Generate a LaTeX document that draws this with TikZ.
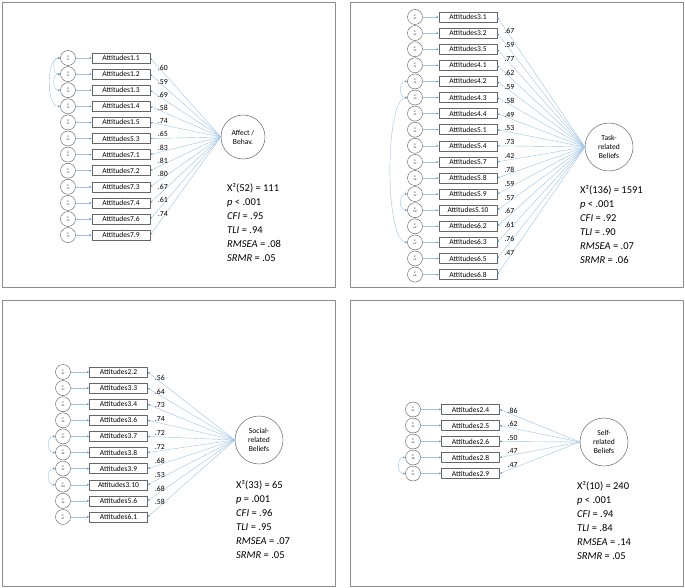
\documentclass[tikz,border=0pt]{standalone}
\usepackage{fontspec}
\setmainfont{Carlito}
\usetikzlibrary{arrows.meta}
\definecolor{pathblue}{RGB}{157,195,230}
\definecolor{tipblue}{RGB}{91,155,213}
\definecolor{framegray}{RGB}{140,140,140}
\tikzset{
  panel/.style={draw=framegray,line width=0.9pt},
  obs/.style={draw=black!60,minimum width=58pt,minimum height=10pt,inner sep=0pt,font=\fontsize{7.5}{8}\selectfont},
  err/.style={draw=black!65,circle,minimum size=15pt,inner sep=0pt,align=center,font=\fontsize{2.6}{3}\selectfont},
  latent/.style={draw=black!70,circle,minimum size=#1,inner sep=0pt,align=center,font=\fontsize{7.6}{9}\selectfont},
  path/.style={draw=pathblue,line width=0.4pt,-{Latex[length=2.2pt,width=2pt,color=tipblue]}},
  cov/.style={draw=pathblue,line width=0.4pt,{Latex[length=2.2pt,width=2pt,color=tipblue]}-{Latex[length=2.2pt,width=2pt,color=tipblue]}},
  ld/.style={font=\fontsize{7.8}{8}\selectfont,inner sep=1pt,anchor=south},
  fitbox/.style={align=left,inner sep=0pt,anchor=north west,font=\fontsize{10.5}{14}\selectfont}
}
\begin{document}
\begin{tikzpicture}[x=1pt,y=-1pt,line cap=round,line join=round]
\useasboundingbox (0,0) rectangle (685,588);
\draw[panel] (2,2) rectangle (335,287);
\draw[panel] (350,2) rectangle (683,287);
\draw[panel] (2,300) rectangle (335,586);
\draw[panel] (350,300) rectangle (683,586);

\node[latent=44pt] (affect) at (243,137) {Affect /\\Behav.};
\foreach \lab/\e/\ld [count=\i] in {1.1/11/.60,1.2/12/.59,1.3/13/.69,1.4/14/.58,1.5/15/.74,5.3/53/.65,7.1/71/.83,7.2/72/.81,7.3/73/.80,7.4/74/.67,7.6/76/.61,7.9/79/.74}
{
  \node[obs] (a\i) at (121,{58+(\i-1)*16.1}) {Attitudes\lab};
  \node[err] (ea\i) at (68,{58+(\i-1)*16.1}) {E\\\e};
  \draw[path] (ea\i) -- (a\i);
  \draw[path] (affect.west) -- node[ld,pos=0.82] {\ld} (a\i.east);
}
\draw[cov] (ea1.west) to[out=180,in=180,looseness=1.3] (ea2.west);
\draw[cov] (ea1.west) to[out=180,in=180,looseness=0.75] (ea4.west);
\draw[cov] (ea2.west) to[out=180,in=180,looseness=1.3] (ea3.west);
\node[fitbox] (fitA) at (227,183) {X²(52) = 111\\\textit{p} < .001\\\textit{CFI} = .95\\\textit{TLI} = .94\\\textit{RMSEA} = .08\\\textit{SRMR} = .05};

\node[latent=48pt] (task) at (609,147) {Task-\\related\\Beliefs};
\foreach \lab/\e/\ld [count=\i] in {3.1/31/.67,3.2/32/.59,3.5/35/.77,4.1/41/.62,4.2/42/.59,4.3/43/.58,4.4/44/.49,5.1/51/.53,5.4/54/.73,5.7/57/.42,5.8/58/.78,5.9/59/.59,5.10/510/.57,6.2/62/.67,6.3/63/.61,6.5/65/.76,6.8/68/.47}
{
  \node[obs] (b\i) at (468,{17+(\i-1)*16.1}) {Attitudes\lab};
  \node[err] (eb\i) at (415,{17+(\i-1)*16.1}) {E\\\e};
  \draw[path] (eb\i) -- (b\i);
  \draw[path] (task.west) -- node[ld,pos=0.86] {\ld} (b\i.east);
}
\draw[cov] (eb5.west) to[out=180,in=180,looseness=1.4] (eb6.west);
\draw[cov] (eb6.west) to[out=185,in=175,looseness=0.4] (eb15.west);
\draw[cov] (eb12.west) to[out=180,in=180,looseness=1.4] (eb13.west);
\node[fitbox] (fitB) at (580,185) {X²(136) = 1591\\\textit{p} < .001\\\textit{CFI} = .92\\\textit{TLI} = .90\\\textit{RMSEA} = .07\\\textit{SRMR} = .06};

\node[latent=48pt] (social) at (259,440) {Social-\\related\\Beliefs};
\foreach \lab/\e/\ld [count=\i] in {2.2/22/.56,3.3/33/.64,3.4/34/.73,3.6/36/.74,3.7/37/.72,3.8/38/.72,3.9/39/.68,3.10/310/.53,5.6/56/.68,6.1/61/.58}
{
  \node[obs] (c\i) at (118.5,{372+(\i-1)*16.1}) {Attitudes\lab};
  \node[err] (ec\i) at (63,{372+(\i-1)*16.1}) {E\\\e};
  \draw[path] (ec\i) -- (c\i);
  \draw[path] (social.west) -- node[ld,pos=0.86] {\ld} (c\i.east);
}
\draw[cov] (ec5.west) to[out=180,in=180,looseness=1.4] (ec6.west);
\draw[cov] (ec7.west) to[out=180,in=180,looseness=1.4] (ec8.west);
\node[fitbox] (fitC) at (236,480) {X²(33) = 65\\\textit{p} = .001\\\textit{CFI} = .96\\\textit{TLI} = .95\\\textit{RMSEA} = .07\\\textit{SRMR} = .05};

\node[latent=48pt] (self) at (604,442) {Self-\\related\\Beliefs};
\foreach \lab/\e/\ld [count=\i] in {2.4/24/.86,2.5/25/.62,2.6/26/.50,2.8/28/.47,2.9/29/.47}
{
  \node[obs] (d\i) at (470.5,{409.5+(\i-1)*16}) {Attitudes\lab};
  \node[err] (ed\i) at (413,{409.5+(\i-1)*16}) {E\\\e};
  \draw[path] (ed\i) -- (d\i);
  \draw[path] (self.west) -- node[ld,pos=0.84] {\ld} (d\i.east);
}
\draw[cov] (ed4.west) to[out=180,in=180,looseness=1.4] (ed5.west);
\node[fitbox] (fitD) at (577,481) {X²(10) = 240\\\textit{p} < .001\\\textit{CFI} = .94\\\textit{TLI} = .84\\\textit{RMSEA} = .14\\\textit{SRMR} = .05};
\end{tikzpicture}
\end{document}
